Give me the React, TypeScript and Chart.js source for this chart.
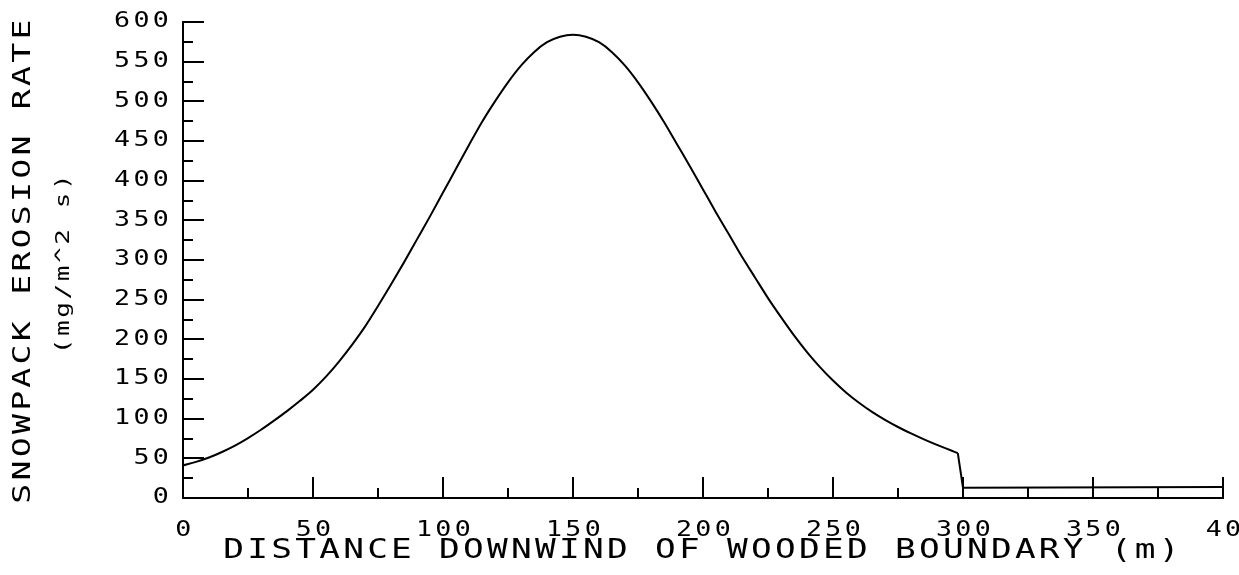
import { useEffect, useRef } from 'react';
import { Chart, registerables } from 'chart.js';

Chart.register(...registerables);

// Distance downwind of wooded boundary (m)
const DISTANCE_M = [
  0, 5, 10, 15, 20, 25, 30, 35, 40, 45, 50, 55, 60, 65, 70, 75, 80, 85, 90, 95,
  100, 105, 110, 115, 120, 125, 130, 135, 140, 145, 150, 155, 160, 165, 170, 175,
  180, 185, 190, 195, 200, 205, 210, 215, 220, 225, 230, 235, 240, 245, 250, 255,
  260, 265, 270, 275, 280, 285, 290, 295, 298, 300, 400,
];

// Snowpack erosion rate (mg/m^2 s)
const EROSION_RATE = [
  41, 45.5, 51, 58, 66, 75.5, 86, 97.5, 109.5, 122.5, 136.5, 153, 172, 193, 216, 242, 269, 297, 326, 355,
  385, 415, 445, 474, 500, 524, 545, 562, 574.5, 581.5, 584, 581.5, 574.5, 562, 545, 524,
  500, 474, 446, 418, 389, 360, 332, 304, 278, 252, 228, 205, 184, 165, 148, 133,
  120, 108.5, 98.5, 89.5, 81.5, 74, 67, 60.5, 56.5, 13, 14,
];

// last distance of the smooth erosion curve; after it the rate drops and stays flat
const CURVE_END_M = 298;

const X_TICKS = [0, 50, 100, 150, 200, 250, 300, 350, 400];
const X_TICK_LABELS = ['0', '50', '100', '150', '200', '250', '300', '350', '40'];
const X_MINOR_TICKS = [25, 75, 125, 175, 225, 275, 325, 375];
const Y_TICKS = [0, 50, 100, 150, 200, 250, 300, 350, 400, 450, 500, 550, 600];
const Y_MINOR_TICKS = [25, 75, 125, 175, 225, 275, 325, 375, 425, 475, 525, 575];

const X_TITLE = 'DISTANCE DOWNWIND OF WOODED BOUNDARY (m)';
const Y_TITLE = 'SNOWPACK EROSION RATE';
const Y_SUBTITLE = '(mg/m^2 s)';

const FONT = '"DejaVu Sans Mono", "Liberation Mono", monospace';
const TEXT_STRETCH = 1.3;

// Plotter-style lettering: every text is drawn horizontally stretched around its anchor,
// with a little extra space between the letters.
const stretchTextPlugin = {
  id: 'stretchText',
  beforeInit(chart: any) {
    const ctx: any = chart.ctx;
    const orig = ctx.fillText;
    ctx.fillText = function (text: string, x: number, y: number) {
      this.save();
      this.translate(x, y);
      this.scale(TEXT_STRETCH, 1);
      orig.call(this, text, 0, 0);
      this.restore();
    };
  },
  beforeDraw(chart: any) {
    chart.ctx.letterSpacing = '2.5px';
  },
};

const ticksPlugin = {
  id: 'inwardTicks',
  afterDraw(chart: any) {
    const { ctx, chartArea, scales } = chart;
    const xs = scales.x;
    const ys = scales.y;
    const MAJOR = 21;
    const MINOR = 10;
    ctx.save();
    ctx.strokeStyle = '#000';
    ctx.lineWidth = 2;
    ctx.beginPath();
    Y_TICKS.forEach((v) => {
      if (v === 0) return;
      const py = Math.round(ys.getPixelForValue(v));
      ctx.moveTo(chartArea.left, py);
      ctx.lineTo(chartArea.left + MAJOR, py);
    });
    Y_MINOR_TICKS.forEach((v) => {
      const py = Math.round(ys.getPixelForValue(v));
      ctx.moveTo(chartArea.left, py);
      ctx.lineTo(chartArea.left + MINOR, py);
    });
    X_TICKS.forEach((v) => {
      if (v === 0) return;
      const px = Math.round(xs.getPixelForValue(v));
      ctx.moveTo(px, chartArea.bottom);
      ctx.lineTo(px, chartArea.bottom - MAJOR);
    });
    X_MINOR_TICKS.forEach((v) => {
      const px = Math.round(xs.getPixelForValue(v));
      ctx.moveTo(px, chartArea.bottom);
      ctx.lineTo(px, chartArea.bottom - MINOR);
    });
    ctx.stroke();

    // second line of the y-axis title, in a smaller font
    ctx.translate(64, 264);
    ctx.rotate(-Math.PI / 2);
    ctx.letterSpacing = '2px';
    ctx.font = `20px ${FONT}`;
    ctx.fillStyle = '#000';
    ctx.textAlign = 'center';
    ctx.textBaseline = 'middle';
    ctx.fillText(Y_SUBTITLE, 1, 0);
    ctx.restore();
  },
};

export default function App() {
  const ref = useRef<HTMLCanvasElement | null>(null);

  useEffect(() => {
    if (!ref.current) return;
    const points = DISTANCE_M.map((x, i) => ({ x, y: EROSION_RATE[i] }));
    const curve = points.filter((p) => p.x <= CURVE_END_M);
    const tail = points.filter((p) => p.x >= CURVE_END_M);
    const common = { borderColor: '#000', borderWidth: 2, pointRadius: 0, fill: false };
    const chart = new Chart(ref.current, {
      type: 'line',
      data: {
        datasets: [
          { ...common, data: curve, cubicInterpolationMode: 'monotone' },
          { ...common, data: tail, tension: 0 },
        ],
      },
      options: {
        animation: false,
        responsive: false,
        devicePixelRatio: 1,
        layout: { padding: { left: 0, right: 16, top: 22, bottom: 0 } },
        plugins: { legend: { display: false }, tooltip: { enabled: false } },
        scales: {
          x: {
            type: 'linear',
            min: 0,
            max: 400,
            afterBuildTicks: (axis: any) => {
              axis.ticks = X_TICKS.map((v) => ({ value: v }));
            },
            afterFit: (axis: any) => {
              axis.height = 77;
              axis.paddingLeft = 0;
              axis.paddingRight = 0;
            },
            ticks: {
              autoSkip: false,
              maxRotation: 0,
              padding: 20,
              labelOffset: 2,
              color: '#000',
              font: { family: FONT, size: 20.5 },
              callback: (_v: any, i: number) => X_TICK_LABELS[i],
            },
            grid: { display: false, drawTicks: false },
            border: { display: true, color: '#000', width: 2 },
            title: {
              display: true,
              text: X_TITLE,
              color: '#000',
              font: { family: FONT, size: 26.5 },
              padding: { top: 0, bottom: 8 },
            },
          },
          y: {
            type: 'linear',
            min: 0,
            max: 600,
            afterBuildTicks: (axis: any) => {
              axis.ticks = Y_TICKS.map((v) => ({ value: v }));
            },
            afterFit: (axis: any) => {
              axis.width = 183;
              axis.paddingTop = 0;
              axis.paddingBottom = 0;
            },
            ticks: {
              padding: 11,
              color: '#000',
              font: { family: FONT, size: 20.5 },
            },
            grid: { display: false, drawTicks: false },
            border: { display: true, color: '#000', width: 2 },
            title: {
              display: true,
              text: Y_TITLE,
              color: '#000',
              font: { family: FONT, size: 25.5 },
              padding: { top: 8, bottom: 0 },
            },
          },
        },
      } as any,
      plugins: [stretchTextPlugin, ticksPlugin],
    });
    return () => chart.destroy();
  }, []);

  return (
    <div style={{ position: 'absolute', left: 0, top: 0, width: 1239, height: 575, background: '#fff' }}>
      <canvas ref={ref} width={1239} height={575} style={{ display: 'block', width: 1239, height: 575 }} />
    </div>
  );
}
